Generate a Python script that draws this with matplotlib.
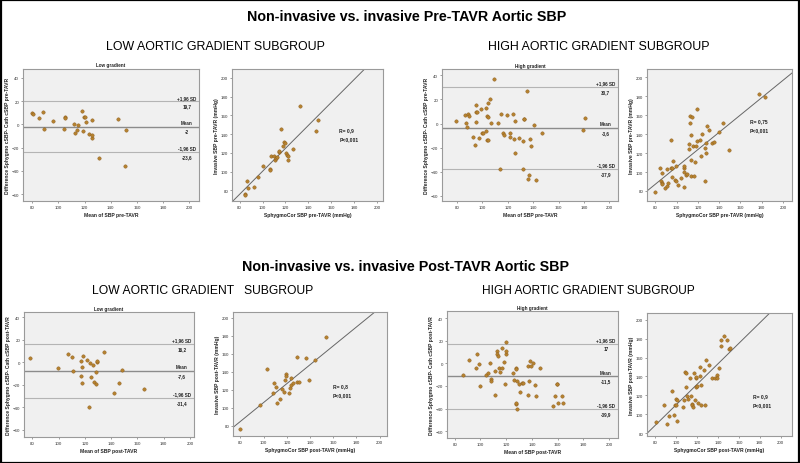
import matplotlib
matplotlib.use('Agg')
import matplotlib.pyplot as plt
from matplotlib import font_manager
from matplotlib.patches import Rectangle

names = {f.name for f in font_manager.fontManager.ttflist}
NARROW = 'Liberation Sans Narrow' if 'Liberation Sans Narrow' in names else 'Liberation Sans'
plt.rcParams['font.family'] = ['Liberation Sans', 'DejaVu Sans']

# ---------------- data ----------------
# Pre-TAVR, low gradient: Bland-Altman
pre_low_mean = [80, 80.5, 85.1, 88.4, 88.9, 95.7, 104.1, 104.9, 105.4, 112.2, 113, 114.3, 115,
                118.1, 118.6, 119.8, 120.6, 121.1, 123.1, 125.7, 125.7, 125.9, 131.3, 145.5, 151.8, 151.3]
pre_low_diff = [10.1, 8.6, 5.7, 10.6, -3.7, 2.6, -4.3, 6.6, 5.5, 0.6, -7.5, -4.6, -0.6,
                11.5, -5.5, 6.6, 6.6, 1.7, -8.6, -11.8, -8.9, 3.4, -28.7, 4.6, -4.6, -35.9]
pre_low_ba = [19.7, -2.0, -23.6]
pre_low_ba_labels = ['19,7', '-2', '-23,6']

# Pre-TAVR, low gradient: correlation
pre_low_sphyg = [84.3, 84.3, 86.4, 87.2, 93, 95.9, 100.8, 106.6, 106.9, 107.7, 110.1, 111.2, 111.8, 112.9,
                 114.1, 114.7, 115.8, 118.2, 118.7, 119.9, 120.8, 121.3, 121.9, 122.5, 126.8, 132.6, 146.5, 148.5]
pre_low_inv = [75.7, 74.6, 90.4, 82.5, 83.6, 94.6, 106.1, 102.5, 101.4, 116.4, 116.4, 112.5, 114.3, 115.7,
               121.1, 121.8, 145.7, 127.1, 131.8, 130.4, 120.4, 117.9, 117.1, 112.5, 124.6, 170, 143.9, 154.6]
pre_low_fit = [-22.5, 1.228]   # intercept, slope
pre_low_stats = ['R= 0,9', 'P<0,001']

# Pre-TAVR, high gradient: Bland-Altman
pre_high_mean = [79.5, 86.0, 87.3, 87.9, 88.6, 89.7, 92.6, 94.4, 94.9, 95.2, 95.2, 96.0, 97.3, 98.8, 99.6,
                 100.2, 102.5, 103.0, 103.6, 104.6, 103.6, 104.1, 104.6, 106.2, 106.7, 108.8, 111.9, 114.0,
                 114.3, 116.1, 116.6, 119.3, 121.4, 122.1, 123.7, 124.5, 125.5, 125.8, 129.0, 131.8, 132.4,
                 132.9, 132.1, 135.2, 135.5, 136.5, 137.1, 138.4, 140.5, 142.3, 147.0, 179.2, 180.5]
pre_high_diff = [1.9, 6.9, 0.3, -3.1, 7.8, 6.1, -11.1, -17.8, 1.1, 15.0, 9.2, 9.2, -12.2, 11.9, -8.1,
                 -8.1, 12.8, -6.1, -13.9, -13.9, 6.4, 5.3, 17.2, 20.0, 0.8, 36.7, 0.3, -37.8,
                 8.3, -8.1, -9.2, 6.7, -10.8, -8.3, 8.1, -13.1, 1.7, -24.2, -11.9, -14.4, 3.9,
                 3.6, -37.8, 26.7, -46.4, -42.5, -13.1, -18.9, -1.1, -46.9, -7.8, -5.0, 4.2]
pre_high_ba = [30.7, -3.6, -37.9]
pre_high_ba_labels = ['30,7', '-3,6', '-37,9']

# Pre-TAVR, high gradient: correlation
pre_high_sphyg = [79.7, 85, 85.9, 84.7, 86.3, 86.6, 88.8, 91, 91.3, 92.2, 94.7, 95, 95.3, 95.9, 96.9, 98.1,
                  99.1, 99.7, 100.9, 104.4, 106.6, 106.9, 106.9, 107.2, 108.4, 110, 111.9, 111.9, 112.2,
                  112.8, 113.1, 113.4, 113.4, 114.7, 115, 115.9, 117.2, 117.8, 119.1, 119.1, 121.9, 122.8,
                  123.8, 126.3, 126.6, 127.2, 127.8, 128.8, 130.6, 133.4, 134.7, 140, 143.4, 149.1, 177.5, 183.1]
pre_high_inv = [78.9, 90.6, 98.7, 104, 88.1, 87.1, 83.5, 103.7, 85.3, 88.1, 134.1, 104.4, 95.2, 104, 111.4, 91.7,
                91, 106.1, 86.7, 94.1, 104, 100.1, 106.5, 83.9, 96.6, 98, 129.5, 124.2, 159.5,
                151.7, 96.3, 113.2, 138.7, 157.7, 127.7, 96.3, 110.4, 127.7, 166.6, 133, 133.7, 116.4,
                139.7, 125.6, 91, 120.3, 130.5, 148.9, 144.7, 130.9, 131.9, 141.8, 151.7, 122.8, 182.8, 179.6]
pre_high_fit = [13.9, 0.915]
pre_high_stats = ['R= 0,75', 'P<0,001']

# Post-TAVR, low gradient: Bland-Altman
post_low_mean = [78.2, 99.7, 107.3, 110.4, 110.9, 117, 117.2, 117.5, 117.7, 118.7, 121.8, 122.8, 124.1,
                 124.3, 126.3, 127.3, 128.4, 128.4, 128.9, 129.6, 134.4, 142.3, 145.6, 148.1, 165.1]
post_low_diff = [4.2, -5.0, 7.1, 5.0, -8.0, -12.2, 0.9, -4.2, -18.1, 5.9, 2.1, -40.1, -0.9,
                 -13.4, -2.1, -17.2, -19, -8.9, 0, 1.2, 8.9, -27, -18.1, -6.8, -24]
post_low_ba = [16.2, -7.6, -31.4]
post_low_ba_labels = ['16,2', '-7,6', '-31,4']

# Post-TAVR, low gradient: correlation
post_low_sphyg = [80, 96.7, 103.3, 108.2, 109.3, 111, 111.3, 113.9, 115.9, 117.9, 118.5, 119.4, 119.4,
                  122, 122.8, 124, 124, 125.4, 128.9, 128.9, 130.3, 136.9, 139.2, 144.7, 154.1]
post_low_inv = [77, 103, 143.2, 116.4, 127.6, 123.5, 104.9, 109.7, 120.9, 117.5, 131.3, 137.6, 135.8,
                116.4, 121.6, 125.7, 133.2, 127.6, 156.6, 129.1, 129.1, 155.1, 130.9, 152.9, 178.5]
post_low_fit = [1.06, 1.048]
post_low_stats = ['R= 0,8', 'P<0,001']

# Post-TAVR, high gradient: Bland-Altman
post_high_mean = [86.5, 90.9, 96.5, 97.3, 98.6, 99.4, 104.5, 105.6, 107.1, 108.2, 108.2, 111, 111.5, 112.6,
                  112.8, 113.3, 114.1, 114.9, 116.4, 116.9, 118.5, 119, 119.5, 119.5, 120.1, 125.2, 125.7,
                  127.3, 127.8, 127.5, 128.1, 127.3, 128.3, 129.6, 130.9, 132.2, 133, 136.6, 136.9, 138.1,
                  138.4, 139.2, 141.2, 142.5, 143.3, 145.9, 156.2, 157.8, 159.3, 159.8, 160.6, 163.7, 164.5]
post_high_diff = [-10, 3.2, -3.8, 8.5, -0.9, -20, -10.3, -8.2, 0.3, -13.8, -15.3, -6.8, -27.9, 11.2,
                  8.2, 6.2, -3.8, -7.6, 13.2, -3.8, 1.5, -17.9, 18.5, 8.2, 11.2, -8.5, -14.7,
                  -4.4, -5.3, -35.9, -40.3, -34.7, -15.3, -18.2, -25.3, -17.4, -17.4, -2.4, -27.9, -15.9,
                  2.1, -2.4, 0.3, -19.4, -28.5, -4.4, -37.9, -29.1, -18.2, -17.9, -35.3, -29.1, -35]
post_high_ba = [17.0, -11.5, -39.9]
post_high_ba_labels = ['17', '-11,5', '-39,9']

# Post-TAVR, high gradient: correlation
post_high_sphyg = [80.3, 88, 91.5, 93.4, 96.3, 97.6, 98.5, 99.5, 100.1, 100.8, 100.8, 106.5, 107.5, 108.1,
                   109.1, 109.7, 110.7, 111.6, 112.9, 114.2, 114.8, 115.5, 116.4, 117.1, 117.7, 118.7, 119,
                   119.3, 119.9, 121.2, 122.5, 123.1, 123.5, 124.1, 126.3, 127.9, 128.6, 131.4, 134, 136.9,
                   139.1, 139.4, 141, 142.6, 142.6, 145.8, 148.7, 150.6, 151.2]
post_high_inv = [92, 109.7, 89.9, 98.4, 125.2, 99.8, 109.7, 116.7, 109.7, 115.7, 93.4, 107.9, 115.7, 145,
                 143.3, 128.4, 119.6, 116.7, 138, 118.9, 110.7, 109.7, 108.3, 143.6, 115, 128.4, 138,
                 139.7, 130.2, 112.5, 150.3, 140.8, 130.9, 110.4, 146.8, 110.4, 157.4, 152.4, 138.3, 138,
                 141.5, 138, 148.6, 171.9, 178.9, 182.5, 178.9, 169, 169.6]
post_high_fit = [2.2, 1.08]
post_high_stats = ['R= 0,9', 'P<0,001']

ticks = [80, 100, 120, 140, 160, 180, 200]
ba_yticks = [-60, -40, -20, 0, 20, 40]
ba_line_names = ['+1,96 SD', 'Mean', '-1,96 SD']

# ---------------- style ----------------
PT_COLOR = '#b5822f'
PT_EDGE = '#8a5a1a'
BG = '#f0f0f0'
SPINE = '#9a9a9a'

fig = plt.figure(figsize=(8.0, 4.64), dpi=100)
fig.patch.set_facecolor('white')


def style_axes(ax):
    ax.set_facecolor(BG)
    for s in ax.spines.values():
        s.set_color(SPINE)
        s.set_linewidth(0.8)
    ax.tick_params(length=1.6, width=0.4, colors='#555555', labelsize=3.2, pad=1.2)
    for lab in ax.get_xticklabels() + ax.get_yticklabels():
        lab.set_color('#333333')


def ba_panel(rect, xs, ys, lines, labels, title, xlabel, ylabel, xlim, ylim):
    ax = fig.add_axes(rect)
    ax.set_xlim(*xlim)
    ax.set_ylim(*ylim)
    ax.set_xticks(ticks)
    ax.set_yticks(ba_yticks)
    style_axes(ax)
    for i, v in enumerate(lines):
        if i == 1:
            ax.axhline(v, color='#8c8c8c', lw=1.0, zorder=1)
        else:
            ax.axhline(v, color='#b4b4b4', lw=0.8, zorder=1)
        ax.annotate(ba_line_names[i], xy=(0.93, v), xycoords=('axes fraction', 'data'),
                    xytext=(0, 1.2), textcoords='offset points', ha='center', va='bottom',
                    fontsize=3.3, fontweight='bold', color='#222222')
        ax.annotate(labels[i], xy=(0.93, v), xycoords=('axes fraction', 'data'),
                    xytext=(0, -1.6), textcoords='offset points', ha='center', va='top',
                    fontsize=3.3, fontweight='bold', color='#222222')
    ax.scatter(xs, ys, s=6, color=PT_COLOR, edgecolors=PT_EDGE, linewidths=0.3, zorder=3)
    ax.set_title(title, fontsize=3.3, fontweight='bold', pad=1.5, color='#222222')
    ax.set_xlabel(xlabel, fontsize=3.6, fontweight='bold', labelpad=2, color='#222222')
    ax.set_ylabel(ylabel, fontsize=3.6, fontweight='bold', labelpad=1.2, color='#222222')
    return ax


def sc_panel(rect, xs, ys, fit, stats, xlabel, ylabel, xlim, ylim, txt_xy):
    ax = fig.add_axes(rect)
    ax.set_xlim(*xlim)
    ax.set_ylim(*ylim)
    ax.set_xticks(ticks)
    ax.set_yticks(ticks)
    style_axes(ax)
    ax.axline((0, fit[0]), slope=fit[1], color='#666666', lw=0.7, zorder=2)
    ax.scatter(xs, ys, s=6, color=PT_COLOR, edgecolors=PT_EDGE, linewidths=0.3, zorder=3)
    ax.text(txt_xy[0], txt_xy[1], stats[0] + '\n' + stats[1], transform=ax.transAxes,
            fontsize=3.6, fontweight='bold', color='#222222', va='top', ha='left', linespacing=2.0)
    ax.set_xlabel(xlabel, fontsize=3.6, fontweight='bold', labelpad=2, color='#222222')
    ax.set_ylabel(ylabel, fontsize=3.6, fontweight='bold', labelpad=1.2, color='#222222')
    return ax


W, H = 800.0, 464.0


def rect(l, t, r, b):
    return [l / W, 1 - b / H, (r - l) / W, (b - t) / H]


# top row (pre-TAVR)
ba_panel(rect(23, 69.5, 199, 202), pre_low_mean, pre_low_diff, pre_low_ba, pre_low_ba_labels,
         'Low gradient', 'Mean of SBP pre-TAVR', 'Difference Sphygmo cSBP- Cath cSBP pre-TAVR',
         (73, 207.5), (-66, 48))
sc_panel(rect(232, 70, 383, 202), pre_low_sphyg, pre_low_inv, pre_low_fit, pre_low_stats,
         'SphygmoCor SBP pre-TAVR (mmHg)', 'Invasive SBP pre-TAVR (mmHg)',
         (73.4, 205), (68.6, 209.6), (0.71, 0.56))
ba_panel(rect(442, 70, 618, 202), pre_high_mean, pre_high_diff, pre_high_ba, pre_high_ba_labels,
         'High gradient', 'Mean of SBP pre-TAVR', 'Difference Sphygmo cSBP- Cath cSBP pre-TAVR',
         (68.2, 206.7), (-64.4, 45.3))
sc_panel(rect(647, 70, 792, 202), pre_high_sphyg, pre_high_inv, pre_high_fit, pre_high_stats,
         'SphygmoCor SBP pre-TAVR (mmHg)', 'Invasive SBP pre-TAVR (mmHg)',
         (72.2, 208.4), (69.4, 208.8), (0.71, 0.63))

# bottom row (post-TAVR)
ba_panel(rect(24, 312.7, 194, 438.3), post_low_mean, post_low_diff, post_low_ba, post_low_ba_labels,
         'Low gradient', 'Mean of SBP post-TAVR', 'Difference Sphygmo cSBP- Cath cSBP post-TAVR',
         (73.7, 203), (-66.8, 45.1))
sc_panel(rect(233, 313, 387, 437), post_low_sphyg, post_low_inv, post_low_fit, post_low_stats,
         'SphygmoCor SBP post-TAVR (mmHg)', 'Invasive SBP post-TAVR (mmHg)',
         (73.7, 206.3), (68.8, 206.3), (0.65, 0.43))
ba_panel(rect(447, 312, 618, 439), post_high_mean, post_high_diff, post_high_ba, post_high_ba_labels,
         'High gradient', 'Mean of SBP post-TAVR', 'Difference Sphygmo cSBP- Cath cSBP post-TAVR',
         (74, 206.9), (-65.9, 46.2))
sc_panel(rect(647, 314, 792, 437), post_high_sphyg, post_high_inv, post_high_fit, post_high_stats,
         'SphygmoCor SBP post-TAVR (mmHg)', 'Invasive SBP post-TAVR (mmHg)',
         (72, 210.9), (77.2, 207), (0.73, 0.35))

# headings
fig.text(407 / W, 1 - 17 / H, 'Non-invasive vs. invasive Pre-TAVR Aortic SBP', ha='center', va='center',
         fontsize=10.3, fontweight='bold', family=[NARROW, 'DejaVu Sans'])
fig.text(405 / W, 1 - 267 / H, 'Non-invasive vs. invasive Post-TAVR Aortic SBP', ha='center', va='center',
         fontsize=10.3, fontweight='bold', family=[NARROW, 'DejaVu Sans'])
fig.text(215 / W, 1 - 47.5 / H, 'LOW AORTIC GRADIENT SUBGROUP', ha='center', va='center',
         fontsize=8.9, family=[NARROW, 'DejaVu Sans'])
fig.text(599 / W, 1 - 47 / H, 'HIGH AORTIC GRADIENT SUBGROUP', ha='center', va='center',
         fontsize=8.9, family=[NARROW, 'DejaVu Sans'])
fig.text(203 / W, 1 - 291 / H, 'LOW AORTIC GRADIENT   SUBGROUP', ha='center', va='center',
         fontsize=8.7, family=[NARROW, 'DejaVu Sans'])
fig.text(588 / W, 1 - 291 / H, 'HIGH AORTIC GRADIENT SUBGROUP', ha='center', va='center',
         fontsize=8.6, family=[NARROW, 'DejaVu Sans'])

# outer frame
fig.add_artist(Rectangle((0.001, 0.001), 0.998, 0.997, transform=fig.transFigure,
                         fill=False, edgecolor='black', lw=1.6))

fig.savefig('out.png', dpi=100, facecolor='white')
